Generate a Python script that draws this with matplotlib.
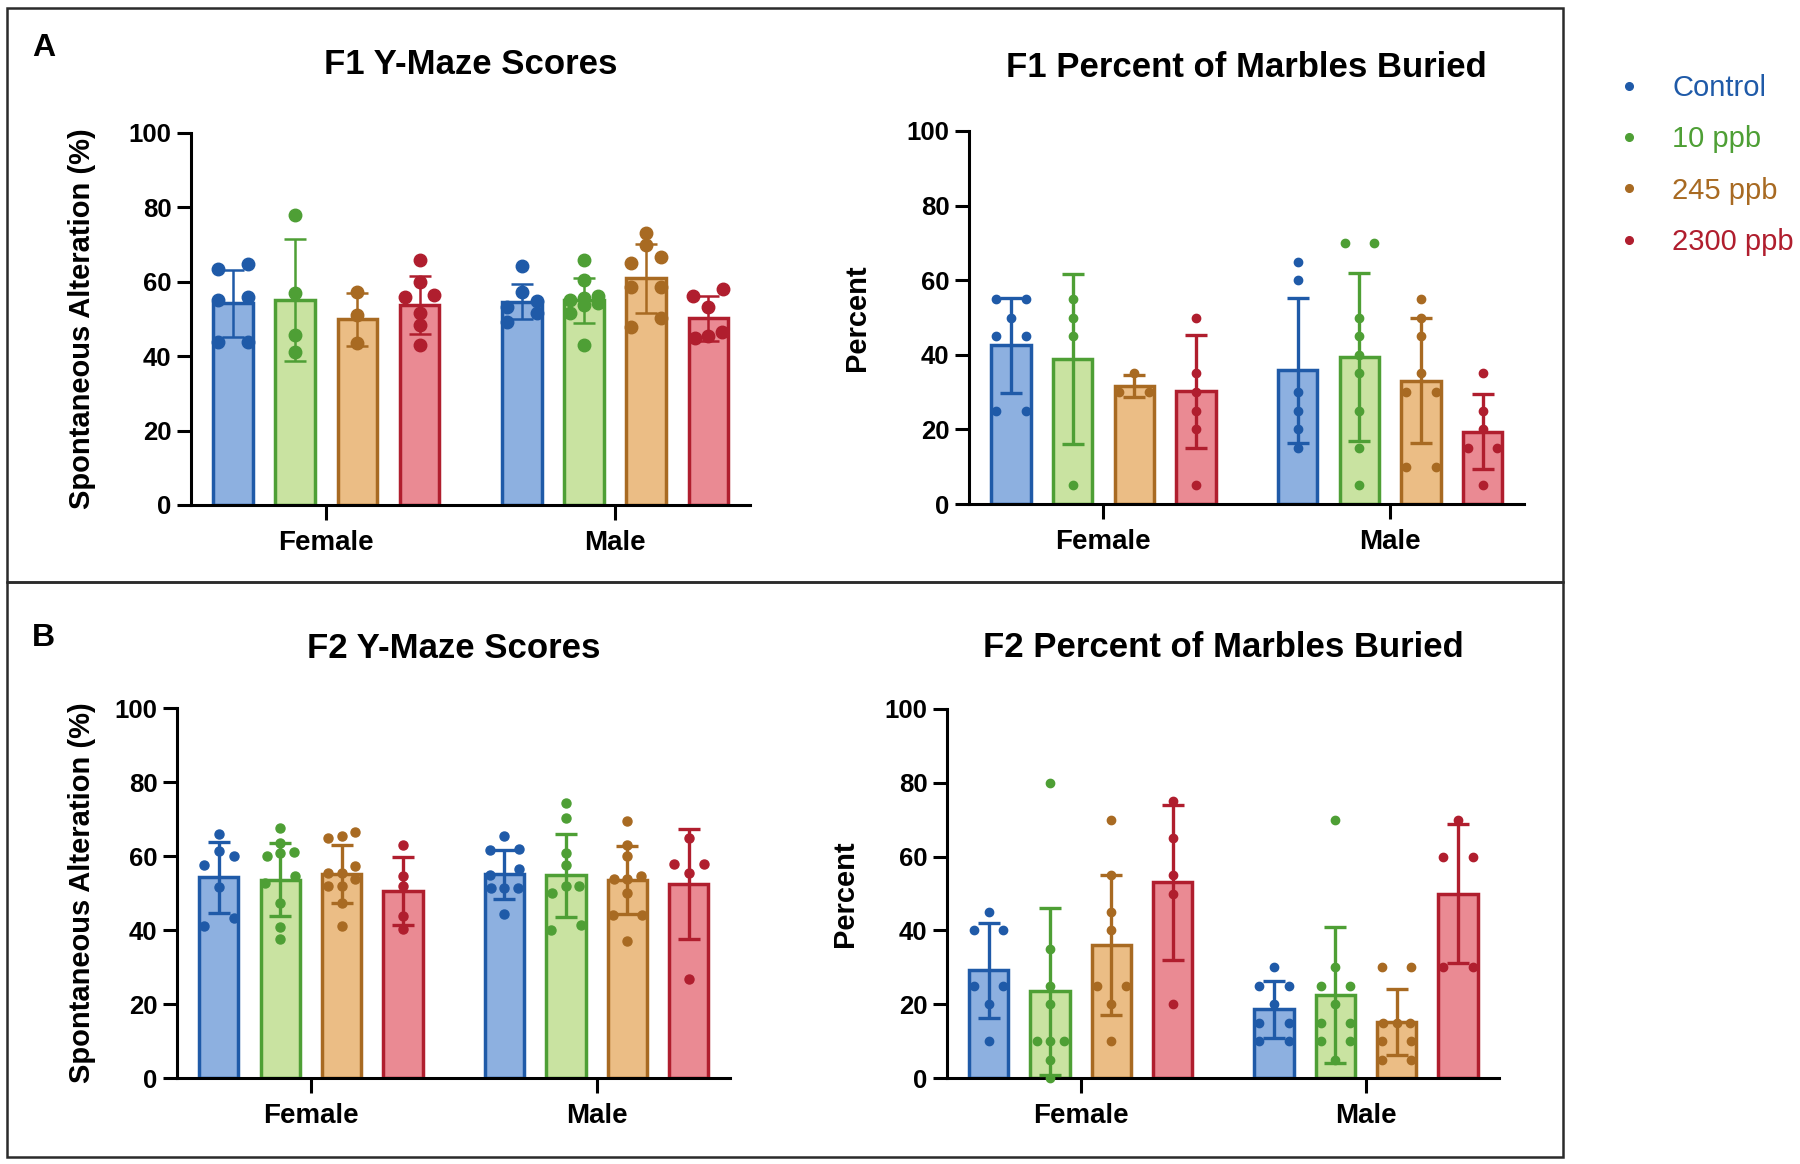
import numpy as np
import matplotlib.pyplot as plt
from matplotlib.lines import Line2D
from matplotlib.patches import Rectangle

plt.rcParams['font.family'] = ['Liberation Sans', 'DejaVu Sans']
plt.rcParams['font.weight'] = 'bold'
plt.rcParams['axes.labelweight'] = 'bold'

groups = ['Control', '10 ppb', '245 ppb', '2300 ppb']
sexes = ['Female', 'Male']
edge_colors = ['#1F5AA8', '#4E9F35', '#A86A22', '#B01E2E']
fill_colors = ['#8DB0E0', '#C9E3A1', '#EBBD85', '#EA8A93']

# F1 Y-maze, spontaneous alteration (%) -> [female, male] x [control, 10, 245, 2300]
f1_maze_mean = [[54.2, 55.1, 49.9, 53.8], [54.7, 55.0, 60.9, 50.2]]
f1_maze_sd = [[9.0, 16.3, 7.1, 7.7], [4.8, 6.0, 9.3, 6.0]]
f1_maze_pts = [
    [[64.8, 63.4, 55.9, 55.1, 43.9, 43.9],
     [78.0, 56.9, 45.7, 41.2],
     [57.3, 51.1, 43.5],
     [65.9, 60.0, 56.5, 55.8, 51.7, 48.4, 43.0]],
    [[64.2, 57.2, 54.8, 53.2, 51.5, 49.3],
     [65.9, 60.5, 56.2, 55.6, 55.0, 54.4, 53.8, 51.5, 43.0],
     [73.2, 69.9, 66.7, 65.1, 58.5, 58.5, 50.2, 47.9],
     [58.0, 56.2, 53.3, 46.5, 45.5, 45.0]],
]

# F1 marbles buried (%)
f1_marb_mean = [[42.5, 38.9, 31.7, 30.2], [35.8, 39.4, 33.1, 19.4]]
f1_marb_sd = [[12.7, 22.7, 2.9, 15.2], [19.5, 22.4, 16.8, 10.1]]
f1_marb_pts = [
    [[55, 55, 50, 45, 45, 25, 25],
     [55, 50, 45, 5],
     [35, 30, 30],
     [50, 35, 30, 25, 20, 5]],
    [[65, 60, 30, 25, 20, 15],
     [70, 70, 50, 45, 40, 35, 25, 15, 5],
     [55, 50, 45, 35, 30, 30, 10, 10],
     [35, 25, 20, 15, 15, 5]],
]

# F2 Y-maze, spontaneous alteration (%)
f2_maze_mean = [[54.2, 53.6, 55.2, 50.5], [55.1, 54.8, 53.4, 52.4]]
f2_maze_sd = [[9.6, 9.8, 7.9, 9.1], [6.6, 11.2, 9.2, 14.8]]
f2_maze_pts = [
    [[65.9, 61.3, 59.9, 57.6, 51.6, 43.2, 41.0],
     [67.7, 63.5, 61.0, 60.8, 59.9, 54.7, 52.7, 47.3, 40.7, 37.5],
     [66.5, 65.3, 64.9, 57.2, 55.5, 55.5, 53.8, 51.8, 51.8, 47.3, 41.0],
     [63.1, 54.7, 52.0, 43.7, 40.2]],
    [[65.5, 62.0, 61.5, 56.6, 55.0, 51.3, 51.3, 51.3, 44.3],
     [74.3, 70.3, 60.8, 57.6, 51.8, 51.8, 50.0, 41.4, 40.0],
     [69.4, 63.1, 59.9, 54.7, 53.8, 53.8, 50.0, 44.1, 44.1, 36.9],
     [64.9, 57.9, 57.9, 55.4, 26.8]],
]

# F2 marbles buried (%)
f2_marb_mean = [[29.2, 23.5, 36.0, 53.0], [18.6, 22.4, 15.2, 50.0]]
f2_marb_sd = [[12.9, 22.6, 18.9, 20.9], [7.7, 18.4, 9.0, 18.7]]
f2_marb_pts = [
    [[45, 40, 40, 25, 25, 20, 10],
     [80, 35, 25, 20, 10, 10, 10, 5, 0],
     [70, 55, 45, 40, 25, 25, 20, 10],
     [75, 65, 55, 50, 20]],
    [[30, 25, 25, 20, 15, 15, 10, 10],
     [70, 30, 25, 25, 20, 15, 15, 10, 10, 5],
     [30, 30, 15, 15, 15, 10, 10, 5, 5],
     [70, 60, 60, 30, 30]],
]

centers = [0.0, 4.65]
W, H = 1800, 1164


def spread(vals, thr):
    # put near-equal values side by side, like a scatter-dot column
    vals = np.asarray(vals, dtype=float)
    order = np.argsort(vals)
    offs = np.zeros(len(vals))
    i = 0
    while i < len(order):
        j = i + 1
        while j < len(order) and vals[order[j]] - vals[order[i]] < thr:
            j += 1
        n = j - i
        if n == 2:
            offs[order[i:j]] = [-0.24, 0.24]
        elif n > 2:
            step = min(0.22, 0.6 / (n - 1))
            offs[order[i:j]] = (np.arange(n) - (n - 1) / 2) * step
        i = j
    return offs


def panel(box, means, sds, pts, ms, thr, elw, title, ylabel, lab_x, title_y):
    l, t, r, b = box
    ax = fig.add_axes([l / W, 1 - b / H, (r - l) / W, (b - t) / H])
    for s in range(2):
        for g in range(4):
            x = centers[s] + (g - 1.5)
            ax.bar(x, means[s][g], width=0.64, color=fill_colors[g],
                   edgecolor=edge_colors[g], linewidth=2.5, zorder=2)
            ax.errorbar(x, means[s][g], yerr=sds[s][g], color=edge_colors[g],
                        elinewidth=elw, capsize=8, capthick=elw, zorder=3)
            ax.plot(x + spread(pts[s][g], thr), pts[s][g], 'o', ls='none',
                    ms=ms, color=edge_colors[g], zorder=4, clip_on=False)
    ax.set_xlim(-2.18, 6.82)
    ax.set_ylim(0, 100)
    ax.set_yticks(range(0, 101, 20))
    ax.set_xticks(centers)
    ax.set_xticklabels(sexes)
    for side in ['top', 'right']:
        ax.spines[side].set_visible(False)
    for side in ['left', 'bottom']:
        ax.spines[side].set_linewidth(2.2)
    ax.tick_params(axis='y', length=10, width=2.2, pad=4, labelsize=18.5)
    ax.tick_params(axis='x', length=11, width=2.2, pad=7, labelsize=20)
    ax.set_ylabel(ylabel, fontsize=21, fontweight='bold', va='center', ha='center')
    ax.yaxis.set_label_coords(lab_x, 0.5)
    ax.text(0.5, title_y, title, transform=ax.transAxes, ha='center',
            va='center', fontsize=25)
    return ax


fig = plt.figure(figsize=(18, 11.64), dpi=100)

panel((191, 133, 750, 505), f1_maze_mean, f1_maze_sd, f1_maze_pts, 9, 2.9, 1.8,
      'F1 Y-Maze Scores', 'Spontaneous Alteration (%)', -0.195, 1.183)
panel((969, 131, 1524, 504), f1_marb_mean, f1_marb_sd, f1_marb_pts, 6, 2.0, 2.4,
      'F1 Percent of Marbles Buried', 'Percent', -0.202, 1.17)
panel((177, 708, 730, 1078), f2_maze_mean, f2_maze_sd, f2_maze_pts, 6.5, 2.4, 2.4,
      'F2 Y-Maze Scores', 'Spontaneous Alteration (%)', -0.172, 1.161)
panel((947, 709, 1499, 1078), f2_marb_mean, f2_marb_sd, f2_marb_pts, 6, 2.0, 2.4,
      'F2 Percent of Marbles Buried', 'Percent', -0.185, 1.168)

# panel frames and letters
for top, bot in [(8, 582), (582, 1157)]:
    fig.add_artist(Rectangle((7 / W, 1 - bot / H), 1556 / W, (bot - top) / H,
                             transform=fig.transFigure, fill=False,
                             edgecolor='#2b2b2b', linewidth=1.8))
fig.text(32 / W, 1 - 48 / H, 'A', ha='left', va='center', fontsize=23)
fig.text(32 / W, 1 - 638 / H, 'B', ha='left', va='center', fontsize=23)

handles = [Line2D([], [], marker='o', ls='none', ms=5.5, color=c) for c in edge_colors]
fig.legend(handles, groups, loc='upper left', bbox_to_anchor=(1614 / W, 1 - 74 / H),
           frameon=False, prop={'weight': 'normal', 'size': 21},
           labelcolor=edge_colors, handlelength=1.0, handletextpad=1.0,
           labelspacing=0.8, borderpad=0, borderaxespad=0)

fig.savefig('out.png', dpi=100)
